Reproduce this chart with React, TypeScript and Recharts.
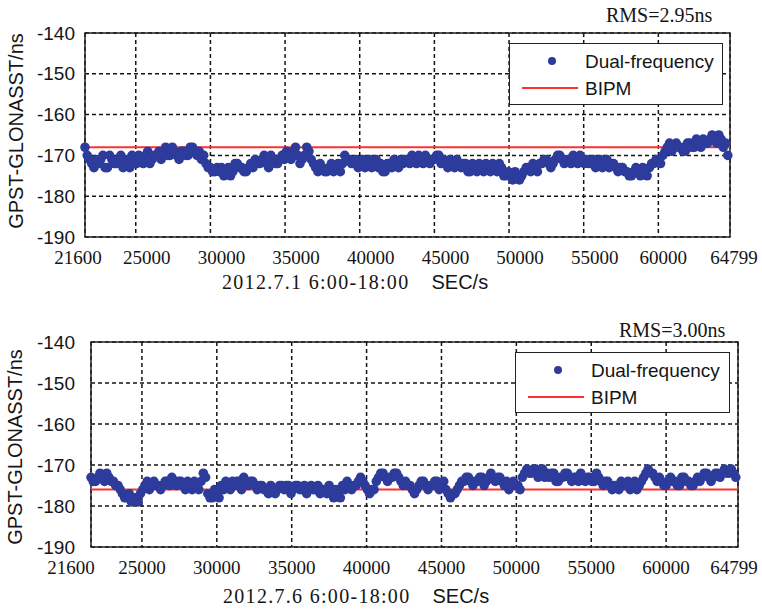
import { ComposedChart, Scatter, XAxis, YAxis, CartesianGrid, ReferenceLine, ReferenceArea } from "recharts";

// sampling: one point every 300 s from 21600 s; the second list is offset by half a step
const TIME_START = 21600;
const STEP = 300;
const HALF = 150;

const X_TICKS = [21600, 25000, 30000, 35000, 40000, 45000, 50000, 55000, 60000, 64799];
const Y_TICKS = [-190, -180, -170, -160, -150, -140];

// 2012.7.1
const DUAL_0701 = [
  -168, -171, -173, -172, -170, -173, -171, -172, -170, -171, -173, -171,
  -170, -172, -169, -171, -170, -171, -168, -170, -169, -171, -169, -170,
  -168, -170, -171, -172, -173, -174, -174, -175, -173, -174, -172, -173,
  -174, -172, -171, -172, -170, -173, -171, -172, -170, -169, -171, -168,
  -172, -170, -169, -172, -174, -173, -174, -172, -173, -174, -170, -171,
  -172, -173, -171, -172, -173, -171, -172, -174, -172, -171, -173, -172,
  -171, -170, -172, -171, -170, -172, -171, -170, -171, -173, -172, -171,
  -173, -172, -174, -173, -172, -174, -173, -172, -174, -173, -175, -175,
  -174, -176, -174, -173, -172, -174, -172, -171, -173, -171, -170, -172,
  -171, -170, -172, -171, -171, -172, -173, -171, -172, -173, -172, -174,
  -173, -174, -175, -173, -175, -174, -173, -172, -171, -170, -168, -169,
  -167, -168, -169, -167, -168, -167, -166, -167, -165, -167, -166, -167,
];
const DUAL_0701_MID = [
  -170, -172, -171, -171, -173, -170, -172, -171, -173, -172, -170, -172,
  -171, -170, -172, -170, -169, -170, -170, -168, -170, -169, -170, -168,
  -169, -169, -170, -173, -174, -173, -173, -174, -175, -172, -173, -174,
  -173, -173, -172, -171, -172, -170, -172, -171, -171, -170, -169, -170,
  -171, -168, -171, -173, -172, -174, -173, -174, -172, -172, -171, -172,
  -171, -172, -173, -171, -172, -173, -174, -172, -173, -172, -171, -171,
  -172, -171, -170, -172, -171, -171, -170, -172, -172, -171, -173, -172,
  -172, -174, -172, -174, -173, -172, -174, -173, -172, -175, -174, -176,
  -175, -175, -173, -174, -173, -172, -171, -172, -172, -170, -171, -171,
  -172, -171, -170, -172, -172, -171, -172, -173, -171, -172, -173, -173,
  -174, -175, -174, -174, -173, -175, -172, -171, -172, -169, -167, -168,
  -168, -169, -167, -168, -166, -168, -167, -166, -166, -165, -168, -170,
];
const BIPM_0701 = -168;

// 2012.7.6
const DUAL_0706 = [
  -173, -174, -172, -174, -173, -174, -175, -177, -178, -179, -178, -177,
  -175, -176, -174, -175, -175, -174, -173, -175, -174, -176, -175, -174,
  -176, -172, -177, -178, -177, -175, -174, -176, -175, -174, -173, -175,
  -174, -176, -175, -176, -175, -177, -175, -176, -175, -176, -175, -176,
  -177, -175, -176, -177, -176, -175, -178, -177, -175, -174, -176, -175,
  -173, -175, -177, -176, -173, -172, -174, -173, -172, -174, -174, -175,
  -177, -175, -174, -176, -175, -174, -175, -176, -178, -177, -175, -174,
  -173, -175, -174, -173, -174, -172, -174, -173, -175, -176, -174, -175,
  -173, -171, -172, -171, -172, -173, -173, -172, -174, -173, -172, -174,
  -173, -172, -174, -173, -174, -173, -175, -174, -176, -175, -174, -175,
  -176, -174, -175, -173, -171, -172, -174, -174, -175, -173, -174, -175,
  -173, -174, -175, -173, -173, -172, -174, -172, -173, -171, -172, -172,
];
const DUAL_0706_MID = [
  -174, -173, -173, -172, -174, -175, -176, -178, -177, -178, -179, -176,
  -174, -175, -175, -176, -174, -175, -174, -174, -175, -174, -176, -175,
  -174, -173, -178, -176, -178, -176, -175, -174, -174, -176, -174, -174,
  -175, -175, -176, -177, -176, -176, -175, -175, -177, -175, -176, -175,
  -176, -176, -175, -176, -177, -176, -176, -178, -176, -175, -175, -174,
  -174, -176, -176, -174, -172, -173, -173, -172, -173, -175, -175, -176,
  -176, -174, -175, -175, -174, -176, -174, -177, -177, -176, -174, -173,
  -174, -174, -173, -175, -173, -173, -173, -174, -174, -175, -175, -176,
  -172, -172, -171, -173, -171, -172, -172, -174, -173, -172, -173, -173,
  -174, -173, -173, -174, -172, -174, -174, -175, -175, -176, -175, -174,
  -175, -176, -174, -172, -172, -173, -173, -175, -174, -174, -175, -173,
  -174, -175, -174, -174, -172, -173, -173, -172, -172, -172, -171, -173,
];
const BIPM_0706 = -176;

const DOT = "#2d3c9c";
const RED = "#ff3030";
const INK = "#151515";

const toPoints = (vals: number[], offset: number) =>
  vals.map((v, i) => ({ t: TIME_START + offset + i * STEP, v }));

interface PanelProps {
  top: number;
  height: number;
  plotLeft: number;
  plotRight: number;
  plotTop: number;
  plotBottom: number;
  values: number[];
  valuesMid: number[];
  bipm: number;
  rms: string;
  date: string;
  tickDx: (v: number) => number;
  yTickGap: number;
  legend: { x: number; y: number; w: number; h: number };
  rmsPos: { x: number; y: number };
  titlePos: { x: number; y: number };
  yTitle: { x: number; y: number };
}

function Panel(p: PanelProps) {
  const data = [...toPoints(p.values, 0), ...toPoints(p.valuesMid, HALF)];
  const W = 762;
  return (
    <div style={{ position: "absolute", left: 0, top: p.top, width: W, height: p.height }}>
      <ComposedChart
        width={W}
        height={p.height}
        margin={{ top: p.plotTop, right: W - p.plotRight, left: 0, bottom: 0 }}
      >
        <CartesianGrid stroke={INK} strokeWidth={1.5} strokeDasharray="4 3" />
        <XAxis
          type="number"
          dataKey="t"
          domain={[21600, 64799]}
          ticks={X_TICKS}
          height={p.height - p.plotBottom}
          axisLine={false}
          tickLine={false}
          tickSize={0}
          interval={0}
          tick={({ x, y, payload }: any) => (
            <text
              x={x + p.tickDx(payload.value)}
              y={y + 18}
              textAnchor="middle"
              dominantBaseline="central"
              fontFamily="Liberation Serif"
              fontSize={19}
              fill={INK}
            >
              {payload.value}
            </text>
          )}
        />
        <YAxis
          type="number"
          dataKey="v"
          domain={[-190, -140]}
          ticks={Y_TICKS}
          width={p.plotLeft}
          axisLine={false}
          tickLine={false}
          tickSize={0}
          interval={0}
          tick={({ x, y, payload }: any) => (
            <text
              x={x - p.yTickGap}
              y={y}
              textAnchor="end"
              dominantBaseline="central"
              fontFamily="Liberation Sans"
              fontSize={19}
              fill={INK}
            >
              {payload.value}
            </text>
          )}
        />
        <Scatter
          data={data}
          dataKey="v"
          isAnimationActive={false}
          shape={(s: any) => <circle cx={s.cx} cy={s.cy} r={4.8} fill={DOT} />}
        />
        <ReferenceLine y={p.bipm} stroke={RED} strokeWidth={2} />
        <ReferenceArea x1={21600} x2={64799} y1={-190} y2={-140} fill="none" stroke="#222" strokeWidth={1.5} />
      </ComposedChart>

      <div
        style={{
          position: "absolute",
          left: p.yTitle.x - 120,
          top: p.yTitle.y - 12,
          width: 240,
          height: 24,
          lineHeight: "24px",
          textAlign: "center",
          transform: "rotate(-90deg)",
          fontFamily: "Liberation Sans",
          fontSize: 20,
          color: INK,
          whiteSpace: "nowrap",
        }}
      >
        GPST-GLONASST/ns
      </div>

      <div
        style={{
          position: "absolute",
          left: p.rmsPos.x,
          top: p.rmsPos.y - 12,
          lineHeight: "24px",
          fontFamily: "Liberation Serif",
          fontSize: 20,
          color: INK,
          whiteSpace: "nowrap",
        }}
      >
        {p.rms}
      </div>

      <div
        style={{
          position: "absolute",
          left: p.titlePos.x,
          top: p.titlePos.y - 12,
          lineHeight: "24px",
          color: INK,
          whiteSpace: "nowrap",
        }}
      >
        <span style={{ fontFamily: "Liberation Serif", fontSize: 20, letterSpacing: 1.3 }}>{p.date}</span>
        <span style={{ fontFamily: "Liberation Sans", fontSize: 20, marginLeft: 22 }}>SEC/s</span>
      </div>

      <div
        style={{
          position: "absolute",
          left: p.legend.x,
          top: p.legend.y,
          width: p.legend.w,
          height: p.legend.h,
          boxSizing: "border-box",
          border: "1.5px solid #222",
          background: "white",
          fontFamily: "Liberation Sans",
          fontSize: 19,
          color: INK,
        }}
      >
        <svg width={p.legend.w} height={p.legend.h} style={{ position: "absolute", left: -1.5, top: -1.5 }}>
          <circle cx={43} cy={18} r={4} fill={DOT} />
          <line x1={13} y1={45} x2={69} y2={45} stroke={RED} strokeWidth={2} />
        </svg>
        <div style={{ position: "absolute", left: 75, top: 6, lineHeight: "24px" }}>Dual-frequency</div>
        <div style={{ position: "absolute", left: 75, top: 33, lineHeight: "24px" }}>BIPM</div>
      </div>
    </div>
  );
}

export default function App() {
  return (
    <div style={{ position: "absolute", left: 0, top: 0, width: 762, height: 612, background: "white" }}>
      <Panel
        top={0}
        height={300}
        plotLeft={85}
        plotRight={730}
        plotTop={33}
        plotBottom={237}
        values={DUAL_0701}
        valuesMid={DUAL_0701_MID}
        bipm={BIPM_0701}
        rms="RMS=2.95ns"
        date="2012.7.1 6:00-18:00"
        tickDx={(v) => (v === 21600 ? -7 : v === 64799 ? 4 : v === 60000 ? 5 : 11)}
        yTickGap={8}
        legend={{ x: 509, y: 43, w: 214, h: 62 }}
        rmsPos={{ x: 606, y: 15 }}
        titlePos={{ x: 222, y: 282 }}
        yTitle={{ x: 16, y: 131 }}
      />
      <Panel
        top={300}
        height={312}
        plotLeft={91}
        plotRight={738}
        plotTop={42}
        plotBottom={247}
        values={DUAL_0706}
        valuesMid={DUAL_0706_MID}
        bipm={BIPM_0706}
        rms="RMS=3.00ns"
        date="2012.7.6 6:00-18:00"
        tickDx={(v) => (v === 21600 ? -20 : v === 64799 ? -4 : 0)}
        yTickGap={14}
        legend={{ x: 515, y: 52, w: 215, h: 61 }}
        rmsPos={{ x: 619, y: 30 }}
        titlePos={{ x: 223, y: 296 }}
        yTitle={{ x: 15, y: 147 }}
      />
    </div>
  );
}
